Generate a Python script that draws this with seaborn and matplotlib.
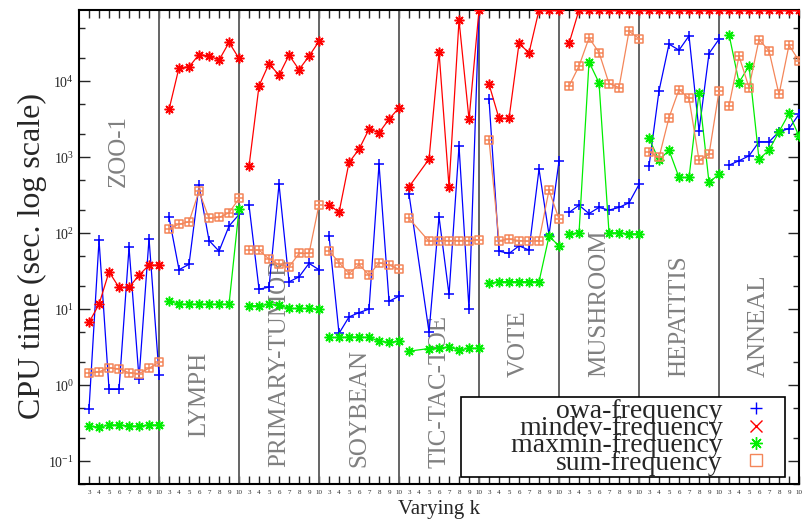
import numpy as np
import pandas as pd
import matplotlib
matplotlib.use("Agg")
import matplotlib.pyplot as plt
from matplotlib.path import Path
from matplotlib.lines import Line2D
from matplotlib.ticker import LogLocator, NullFormatter
import seaborn as sns

# data: CPU time (s) per dataset for k = 3..10, timeout = 86400 s
T = 86400
datasets = ["ZOO-1", "LYMPH", "PRIMARY-TUMOR", "SOYBEAN", "TIC-TAC-TOE",
            "VOTE", "MUSHROOM", "HEPATITIS", "ANNEAL"]
ks = [3, 4, 5, 6, 7, 8, 9, 10]
nan = np.nan

owa = [0.49, 81, 0.88, 0.88, 65, 1.22, 85, 1.38,          # zoo-1
       161, 33, 39, 428, 80, 58, 124, 176,                # lymph
       233, 18.3, 19.5, 441, 22.9, 26.6, 40, 33,          # primary-tumor
       92, 4.8, 7.9, 9.0, 10, 809, 12.7, 14.8,            # soybean
       326, nan, 5.0, 164, 15.6, 1400, 10, T,             # tic-tac-toe
       5740, 58, 54, 68, 60, 695, 95, 895,                # vote
       187, 233, 181, 218, 201, 218, 251, 437,            # mushroom
       762, 7460, 30700, 25600, 39400, 2220, 23100, 35700,  # hepatitis
       785, 896, 1040, 1590, 1590, 2160, 2380, 3680]      # anneal

mindev = [6.7, 11.6, 31, 19.3, 19.3, 28, 38, 38,
          4240, 15100, 15400, 22400, 21500, 18900, 32300, 19900,
          762, 8680, 17000, 12000, 22000, 14200, 21300, 33600,
          238, 187, 851, 1270, 2340, 2090, 3160, 4460,
          408, nan, 942, 24300, 408, 63500, 3130, T,
          9120, 3230, 3230, 31300, 23600, T, T, T,
          31300, T, T, T, T, T, T, T,
          T, T, T, T, T, T, T, T,
          T, T, T, T, T, T, T, T]

maxmin = [0.29, 0.28, 0.30, 0.30, 0.29, 0.29, 0.30, 0.30,
          12.7, 11.6, 11.6, 11.6, 11.6, 11.6, 11.6, 207,
          11.1, 11.1, 11.6, 11.4, 10.2, 10.2, 10.2, 10.0,
          4.24, 4.24, 4.3, 4.3, 4.24, 3.8, 3.65, 3.8,
          2.8, nan, 3.03, 3.06, 3.19, 2.9, 3.06, 3.06,
          22, 23, 23, 23, 23, 23, 91, 68,
          98, 101, 17900, 9500, 101, 101, 98, 98,
          1760, 912, 1235, 540, 540, 7020, 464, 598,
          41100, 9600, 15900, 942, 1235, 2160, 3760, 1890]

sumf = [1.45, 1.5, 1.69, 1.64, 1.46, 1.42, 1.67, 1.99,
        115, 131, 141, 357, 156, 161, 185, 286,
        60, 60, 45.5, 38.7, 36, 54, 54, 238,
        58.6, 41, 29.4, 38.7, 28, 40.7, 38, 33.6,
        156, nan, 78, 80, 80, 80, 80, 82,
        1670, 80, 83, 80, 78, 80, 368, 153,
        8600, 15800, 37100, 23800, 9300, 8250, 45400, 36400,
        1175, 990, 3320, 7760, 5920, 912, 1084, 7380,
        4730, 21300, 8250, 35300, 25100, 6680, 29800, 18500]

label_y = [0.627, 0.099, 0.036, 0.036, 0.034, 0.226, 0.226, 0.226, 0.226]

# square with a cross inside
boxplus = Path([(-1, -1), (1, -1), (1, 1), (-1, 1), (-1, -1),
                (0, -1), (0, 1), (-1, 0), (1, 0)],
               [Path.MOVETO, Path.LINETO, Path.LINETO, Path.LINETO, Path.CLOSEPOLY,
                Path.MOVETO, Path.LINETO, Path.MOVETO, Path.LINETO])
star = (8, 2, 0)

methods = {
    "owa-frequency": (owa, "#0000ff", "+", 7),
    "mindev-frequency": (mindev, "#ff0000", star, 7),
    "maxmin-frequency": (maxmin, "#00ee00", star, 7),
    "sum-frequency": (sumf, "#f4865a", boxplus, 6),
}

rows = []
for m, (vals, c, mk, ms) in methods.items():
    for i, v in enumerate(vals):
        p, j = divmod(i, 8)
        rows.append({"method": m, "dataset": datasets[p], "k": ks[j],
                     "pos": 8 * p + j + 1, "time": v})
df = pd.DataFrame(rows).dropna()

sns.set_style("ticks")
plt.rcParams["font.family"] = ["Liberation Serif", "DejaVu Serif"]
plt.rcParams["mathtext.fontset"] = "stix"

fig = plt.figure(figsize=(8.04, 5.2), dpi=100)
ax = fig.add_axes([0.0983, 0.0692, 0.8955, 0.9116])

for p in range(1, 9):
    ax.axvline(8 * p, color="#646464", lw=1.4, zorder=1)

for m, (vals, c, mk, ms) in methods.items():
    sub = df[df["method"] == m]
    sns.lineplot(data=sub, x="pos", y="time", units="dataset", estimator=None,
                 color=c, marker=mk, markersize=ms, markeredgecolor=c,
                 markerfacecolor="none", markeredgewidth=1.1, lw=0.9,
                 legend=False, ax=ax, zorder=3)

ax.set_yscale("log")
ax.set_ylim(0.05, T)
ax.set_xlim(0, 72)

ax.yaxis.set_major_locator(LogLocator(base=10, numticks=12))
ax.yaxis.set_minor_locator(LogLocator(base=10, subs=(2, 5), numticks=12))
ax.yaxis.set_minor_formatter(NullFormatter())
ax.set_xticks(range(1, 73))
ax.set_xticklabels([str(k) for _ in datasets for k in ks], fontsize=5)
ax.tick_params(axis="x", direction="in", length=6, width=1, top=True, pad=4)
ax.tick_params(axis="y", which="major", direction="in", length=8, width=1,
               right=True, labelsize=10)
ax.tick_params(axis="y", which="minor", direction="in", length=4, width=1,
               right=True)
for s in ax.spines.values():
    s.set_linewidth(1.5)
    s.set_color("black")

for p, name in enumerate(datasets):
    ax.text(8 * p + 4, label_y[p], name, rotation=90, color="#808080",
            fontsize=18, ha="center", va="bottom",
            transform=ax.get_xaxis_transform(), zorder=2)

ax.set_xlabel("Varying k", fontsize=15, labelpad=4)
ax.set_ylabel("CPU time (sec. log scale)", fontsize=23)
ax.yaxis.set_label_coords(-0.045, 0.48)

handles = [Line2D([], [], ls="none", marker="+", color="#0000ff", ms=9),
           Line2D([], [], ls="none", marker="x", color="#ff0000", ms=8),
           Line2D([], [], ls="none", marker=star, color="#00ee00", ms=9),
           Line2D([], [], ls="none", marker="s", color="#f4865a", ms=8,
                  markerfacecolor="none")]
labels = list(methods.keys())
labels[2] = "       " + labels[2]  # widen the box on the left like the original
leg = ax.legend(handles, labels, loc="lower right",
                bbox_to_anchor=(0.981, 0.015), borderaxespad=0,
                markerfirst=False, fontsize=20, labelspacing=-0.30,
                handlelength=2.0, handletextpad=0.2, borderpad=0.05,
                fancybox=False, framealpha=1, edgecolor="black")
leg.get_frame().set_linewidth(1.2)

fig.savefig("out.png", dpi=100)
